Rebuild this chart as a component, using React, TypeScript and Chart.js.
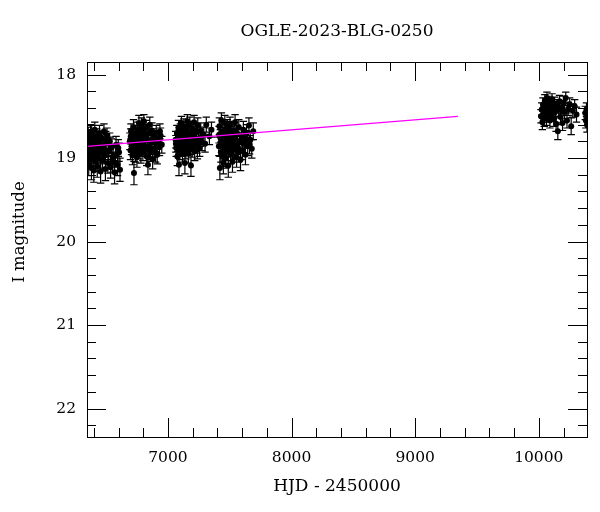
import React, { useEffect, useRef } from "react";
import { Chart, registerables } from "chart.js";
Chart.register(...registerables);

const TITLE = "OGLE-2023-BLG-0250";
const X_LABEL = "HJD - 2450000";
const Y_LABEL = "I magnitude";
const X_TICKS = [7000, 8000, 9000, 10000];
const Y_TICKS = [18, 19, 20, 21, 22];
const X_MIN = 6345;
const X_MAX = 10390;
const Y_MIN = 17.85;
const Y_MAX = 22.34;

const hjd2013 = [6348, 6352, 6355, 6359, 6363, 6366, 6370, 6374, 6377, 6381, 6385, 6389, 6392, 6396, 6400, 6404, 6408, 6412, 6416, 6420, 6424, 6428, 6433, 6437, 6441, 6446, 6450, 6455, 6460, 6465, 6470, 6476, 6482, 6488, 6494, 6500, 6507, 6514, 6521, 6528, 6536, 6545, 6556, 6568, 6580, 6592, 6604, 6612, 6350, 6383, 6418, 6444, 6468, 6497, 6533, 6550, 6575, 6598];
const mag2013 = [18.84, 18.97, 18.72, 19.08, 18.90, 18.78, 19.01, 18.69, 18.86, 19.12, 18.93, 18.75, 18.98, 18.81, 19.15, 18.88, 18.66, 19.04, 18.83, 18.95, 18.74, 19.10, 18.87, 18.79, 19.00, 18.70, 18.92, 19.16, 18.85, 18.77, 19.03, 18.89, 18.68, 18.96, 19.13, 18.82, 18.73, 19.06, 18.91, 18.80, 19.11, 18.87, 18.99, 19.17, 18.84, 19.08, 18.93, 19.14, 18.76, 18.70, 18.89, 18.83, 18.94, 18.78, 18.85, 19.05, 18.97, 18.88];
const err2013 = [0.10, 0.11, 0.09, 0.13, 0.10, 0.09, 0.12, 0.09, 0.10, 0.14, 0.11, 0.09, 0.11, 0.10, 0.14, 0.10, 0.09, 0.12, 0.10, 0.11, 0.09, 0.13, 0.10, 0.10, 0.12, 0.09, 0.11, 0.14, 0.10, 0.09, 0.12, 0.10, 0.09, 0.11, 0.14, 0.10, 0.09, 0.12, 0.11, 0.10, 0.13, 0.10, 0.12, 0.14, 0.10, 0.13, 0.11, 0.14, 0.09, 0.09, 0.10, 0.10, 0.11, 0.10, 0.10, 0.12, 0.11, 0.10];

const hjd2014 = [6692, 6697, 6701, 6705, 6709, 6713, 6717, 6721, 6725, 6729, 6733, 6737, 6741, 6745, 6749, 6753, 6757, 6761, 6765, 6769, 6773, 6777, 6781, 6785, 6789, 6793, 6797, 6801, 6805, 6809, 6813, 6818, 6823, 6828, 6833, 6838, 6843, 6848, 6853, 6858, 6864, 6870, 6876, 6883, 6890, 6897, 6905, 6913, 6922, 6931, 6940, 6950, 6699, 6727, 6755, 6779, 6803, 6826, 6850, 6873, 6900, 6935];
const mag2014 = [18.80, 18.91, 18.68, 18.86, 18.74, 18.97, 18.82, 18.63, 19.18, 18.89, 18.77, 18.94, 18.70, 18.84, 18.99, 18.66, 18.81, 18.90, 18.58, 18.76, 18.87, 18.72, 18.95, 18.61, 18.83, 18.79, 18.92, 18.69, 18.56, 18.85, 18.75, 18.88, 18.64, 18.98, 18.78, 19.08, 18.71, 18.86, 18.60, 18.93, 18.80, 18.67, 19.01, 18.74, 18.89, 18.82, 18.70, 18.96, 18.77, 18.87, 18.73, 18.84, 18.74, 18.83, 18.88, 18.66, 18.80, 18.72, 18.91, 18.78, 18.94, 18.68];
const err2014 = [0.10, 0.11, 0.09, 0.10, 0.09, 0.11, 0.10, 0.09, 0.14, 0.10, 0.09, 0.11, 0.09, 0.10, 0.12, 0.09, 0.10, 0.11, 0.09, 0.09, 0.10, 0.09, 0.11, 0.09, 0.10, 0.10, 0.11, 0.09, 0.08, 0.10, 0.09, 0.10, 0.09, 0.11, 0.10, 0.12, 0.09, 0.10, 0.09, 0.11, 0.10, 0.09, 0.12, 0.09, 0.10, 0.10, 0.09, 0.11, 0.10, 0.10, 0.09, 0.10, 0.09, 0.10, 0.10, 0.09, 0.10, 0.09, 0.11, 0.10, 0.11, 0.09];

const hjd2015 = [7062, 7067, 7072, 7076, 7080, 7085, 7089, 7093, 7097, 7101, 7105, 7109, 7113, 7117, 7121, 7125, 7129, 7133, 7137, 7141, 7145, 7149, 7153, 7157, 7161, 7165, 7169, 7173, 7177, 7181, 7186, 7191, 7196, 7201, 7206, 7211, 7216, 7222, 7228, 7234, 7241, 7248, 7256, 7265, 7275, 7290, 7310, 7335, 7352, 7064, 7091, 7115, 7139, 7163, 7188, 7213, 7238, 7260, 7300];
const mag2015 = [18.78, 18.88, 18.70, 18.98, 18.82, 18.64, 19.08, 18.75, 18.91, 18.68, 18.85, 18.58, 18.79, 18.94, 18.72, 18.87, 18.62, 18.81, 19.06, 18.74, 18.90, 18.66, 18.83, 18.56, 18.77, 18.95, 18.71, 18.86, 18.60, 18.80, 19.09, 18.73, 18.89, 18.65, 18.82, 18.57, 18.92, 18.76, 18.69, 18.84, 18.61, 18.78, 18.88, 18.67, 18.81, 18.72, 18.60, 18.74, 18.66, 18.83, 18.72, 18.88, 18.69, 18.84, 18.78, 18.74, 18.90, 18.76, 18.83];
const err2015 = [0.10, 0.10, 0.09, 0.11, 0.10, 0.09, 0.13, 0.09, 0.11, 0.09, 0.10, 0.08, 0.10, 0.11, 0.09, 0.10, 0.09, 0.10, 0.13, 0.09, 0.11, 0.09, 0.10, 0.08, 0.10, 0.11, 0.09, 0.10, 0.09, 0.10, 0.13, 0.09, 0.10, 0.09, 0.10, 0.08, 0.11, 0.10, 0.09, 0.10, 0.09, 0.10, 0.10, 0.09, 0.10, 0.09, 0.09, 0.10, 0.09, 0.10, 0.09, 0.10, 0.09, 0.10, 0.10, 0.09, 0.11, 0.10, 0.10];

const hjd2016 = [7412, 7416, 7420, 7424, 7428, 7432, 7436, 7440, 7444, 7448, 7452, 7456, 7460, 7464, 7468, 7472, 7476, 7480, 7484, 7488, 7492, 7497, 7502, 7507, 7512, 7517, 7522, 7527, 7532, 7537, 7543, 7549, 7555, 7561, 7567, 7573, 7580, 7587, 7594, 7602, 7610, 7618, 7627, 7636, 7645, 7655, 7666, 7678, 7690, 7414, 7442, 7470, 7495, 7520, 7545, 7570, 7598, 7632, 7660];
const mag2016 = [18.86, 18.62, 19.12, 18.76, 18.93, 18.55, 18.81, 18.98, 18.68, 19.06, 18.73, 18.89, 18.58, 18.84, 19.00, 18.70, 18.92, 18.64, 18.79, 19.09, 18.75, 18.87, 18.60, 18.95, 18.72, 18.83, 19.04, 18.67, 18.90, 18.77, 18.57, 18.85, 18.99, 18.71, 18.88, 18.63, 18.80, 19.02, 18.74, 18.91, 18.66, 18.83, 18.96, 18.70, 18.86, 18.61, 18.78, 18.89, 18.68, 18.72, 18.84, 18.79, 18.66, 18.88, 18.74, 18.93, 18.80, 18.77, 18.84];
const err2016 = [0.11, 0.10, 0.14, 0.10, 0.12, 0.09, 0.10, 0.12, 0.10, 0.13, 0.10, 0.11, 0.09, 0.11, 0.12, 0.10, 0.11, 0.10, 0.10, 0.14, 0.10, 0.11, 0.09, 0.12, 0.10, 0.11, 0.13, 0.10, 0.11, 0.10, 0.09, 0.11, 0.12, 0.10, 0.11, 0.09, 0.10, 0.13, 0.10, 0.11, 0.10, 0.11, 0.12, 0.10, 0.11, 0.09, 0.10, 0.11, 0.10, 0.10, 0.11, 0.10, 0.10, 0.11, 0.10, 0.12, 0.10, 0.10, 0.11];

const hjd2023 = [10018, 10024, 10029, 10034, 10039, 10044, 10049, 10054, 10058, 10062, 10066, 10070, 10074, 10078, 10082, 10086, 10090, 10094, 10098, 10102, 10107, 10112, 10117, 10122, 10128, 10134, 10140, 10147, 10154, 10161, 10168, 10176, 10184, 10192, 10200, 10209, 10218, 10228, 10238, 10250, 10262, 10275, 10290, 10305];
const mag2023 = [18.50, 18.42, 18.57, 18.36, 18.47, 18.53, 18.31, 18.44, 18.39, 18.52, 18.28, 18.45, 18.37, 18.49, 18.41, 18.33, 18.55, 18.43, 18.38, 18.48, 18.30, 18.46, 18.40, 18.53, 18.35, 18.44, 18.59, 18.38, 18.68, 18.42, 18.32, 18.51, 18.39, 18.58, 18.34, 18.45, 18.28, 18.55, 18.41, 18.36, 18.62, 18.43, 18.38, 18.48];
const err2023 = [0.08, 0.08, 0.09, 0.08, 0.08, 0.09, 0.07, 0.08, 0.08, 0.09, 0.07, 0.08, 0.08, 0.08, 0.08, 0.07, 0.09, 0.08, 0.08, 0.08, 0.07, 0.08, 0.08, 0.09, 0.08, 0.08, 0.09, 0.08, 0.10, 0.08, 0.07, 0.09, 0.08, 0.09, 0.08, 0.08, 0.07, 0.09, 0.08, 0.08, 0.10, 0.08, 0.08, 0.09];

const hjd2024 = [10376, 10381, 10386, 10390, 10396];
const mag2024 = [18.46, 18.55, 18.42, 18.60, 18.50];
const err2024 = [0.08, 0.09, 0.08, 0.09, 0.08];

const fitHjd = [6345, 9345];
const fitMag = [18.86, 18.5];

const FONT = "DejaVu Serif";

const seasons = [
  [hjd2013, mag2013, err2013],
  [hjd2014, mag2014, err2014],
  [hjd2015, mag2015, err2015],
  [hjd2016, mag2016, err2016],
  [hjd2023, mag2023, err2023],
  [hjd2024, mag2024, err2024],
];

const photHjd: number[] = [];
const photMag: number[] = [];
const photErr: number[] = [];
seasons.forEach(([h, m, e]) => {
  h.forEach((v, i) => {
    photHjd.push(v);
    photMag.push(m[i]);
    photErr.push(e[i]);
  });
});

const errorBarPlugin = {
  id: "errorBars",
  beforeDatasetsDraw(chart: any) {
    const { ctx, chartArea } = chart;
    const meta = chart.getDatasetMeta(1);
    const ys = chart.scales.y;
    ctx.save();
    ctx.beginPath();
    ctx.rect(chartArea.left, chartArea.top, chartArea.right - chartArea.left, chartArea.bottom - chartArea.top);
    ctx.clip();
    ctx.strokeStyle = "#000";
    ctx.lineWidth = 1.2;
    meta.data.forEach((pt: any, i: number) => {
      const x = pt.x;
      const y1 = ys.getPixelForValue(photMag[i] - photErr[i]);
      const y2 = ys.getPixelForValue(photMag[i] + photErr[i]);
      ctx.beginPath();
      ctx.moveTo(x, y1);
      ctx.lineTo(x, y2);
      ctx.moveTo(x - 3.7, y1);
      ctx.lineTo(x + 3.7, y1);
      ctx.moveTo(x - 3.7, y2);
      ctx.lineTo(x + 3.7, y2);
      ctx.stroke();
    });
    ctx.restore();
  },
};

const framePlugin = {
  id: "frame",
  afterDraw(chart: any) {
    const { ctx, chartArea } = chart;
    const { left, right, top, bottom } = chartArea;
    const xs = chart.scales.x;
    const ys = chart.scales.y;
    ctx.save();
    ctx.strokeStyle = "#000";
    ctx.lineWidth = 1;
    ctx.strokeRect(Math.round(left) + 0.5, Math.round(top) + 0.5, Math.round(right - left), Math.round(bottom - top));
    const MAJ = 19;
    const MIN = 9;
    ctx.beginPath();
    for (let v = Math.ceil(X_MIN / 200) * 200; v <= X_MAX; v += 200) {
      const len = v % 1000 === 0 ? MAJ : MIN;
      const px = Math.round(xs.getPixelForValue(v)) + 0.5;
      ctx.moveTo(px, bottom);
      ctx.lineTo(px, bottom - len);
      ctx.moveTo(px, top);
      ctx.lineTo(px, top + len);
    }
    for (let k = Math.ceil(Y_MIN * 5); k <= Math.floor(Y_MAX * 5); k++) {
      const v = k / 5;
      const len = k % 5 === 0 ? MAJ : MIN;
      const py = Math.round(ys.getPixelForValue(v)) + 0.5;
      ctx.moveTo(left, py);
      ctx.lineTo(left + len, py);
      ctx.moveTo(right, py);
      ctx.lineTo(right - len, py);
    }
    ctx.stroke();

    ctx.fillStyle = "#000";
    ctx.textAlign = "center";
    ctx.textBaseline = "middle";
    ctx.font = `17px ${FONT}`;
    const cx = (left + right) / 2;
    ctx.fillText(TITLE, cx, 32);
    ctx.fillText(X_LABEL, cx, 487);
    ctx.translate(20, 232);
    ctx.rotate(-Math.PI / 2);
    ctx.font = `16.5px ${FONT}`;
    ctx.fillText(Y_LABEL, 0, 0);
    ctx.restore();
  },
};

export default function App() {
  const ref = useRef<HTMLCanvasElement | null>(null);
  useEffect(() => {
    document.body.style.margin = "0";
    const canvas = ref.current;
    if (!canvas) return;
    const chart = new Chart(canvas, {
      type: "scatter",
      data: {
        datasets: [
          {
            type: "line",
            data: fitHjd.map((x, i) => ({ x, y: fitMag[i] })),
            borderColor: "#ff00ff",
            borderWidth: 1.3,
            pointRadius: 0,
            fill: false,
            order: 0,
          } as any,
          {
            data: photHjd.map((x, i) => ({ x, y: photMag[i] })),
            backgroundColor: "#000",
            borderColor: "#000",
            borderWidth: 0,
            pointRadius: 3,
            clip: 0,
            order: 1,
          },
        ],
      },
      options: {
        responsive: false,
        animation: false,
        events: [],
        layout: { padding: { top: 62, right: 13, left: 0, bottom: 0 } },
        plugins: {
          legend: { display: false },
          title: { display: false },
          tooltip: { enabled: false },
        },
        scales: {
          x: {
            type: "linear",
            min: X_MIN,
            max: X_MAX,
            afterBuildTicks: (s: any) => {
              s.ticks = X_TICKS.map((v) => ({ value: v }));
            },
            afterFit: (s: any) => {
              s.height = 75;
            },
            grid: { display: false, drawTicks: false },
            border: { display: false },
            ticks: {
              padding: 12,
              color: "#000",
              maxRotation: 0,
              font: { family: FONT, size: 15.5 },
              callback: (v: any) => String(v),
            },
          },
          y: {
            type: "linear",
            reverse: true,
            min: Y_MIN,
            max: Y_MAX,
            afterBuildTicks: (s: any) => {
              s.ticks = Y_TICKS.map((v) => ({ value: v }));
            },
            afterFit: (s: any) => {
              s.width = 87;
            },
            grid: { display: false, drawTicks: false },
            border: { display: false },
            ticks: {
              padding: 11,
              color: "#000",
              font: { family: FONT, size: 15.5 },
              callback: (v: any) => String(v),
            },
          },
        },
      },
      plugins: [errorBarPlugin, framePlugin],
    });
    return () => chart.destroy();
  }, []);
  return <canvas ref={ref} width={600} height={512} style={{ display: "block", width: 600, height: 512 }} />;
}
